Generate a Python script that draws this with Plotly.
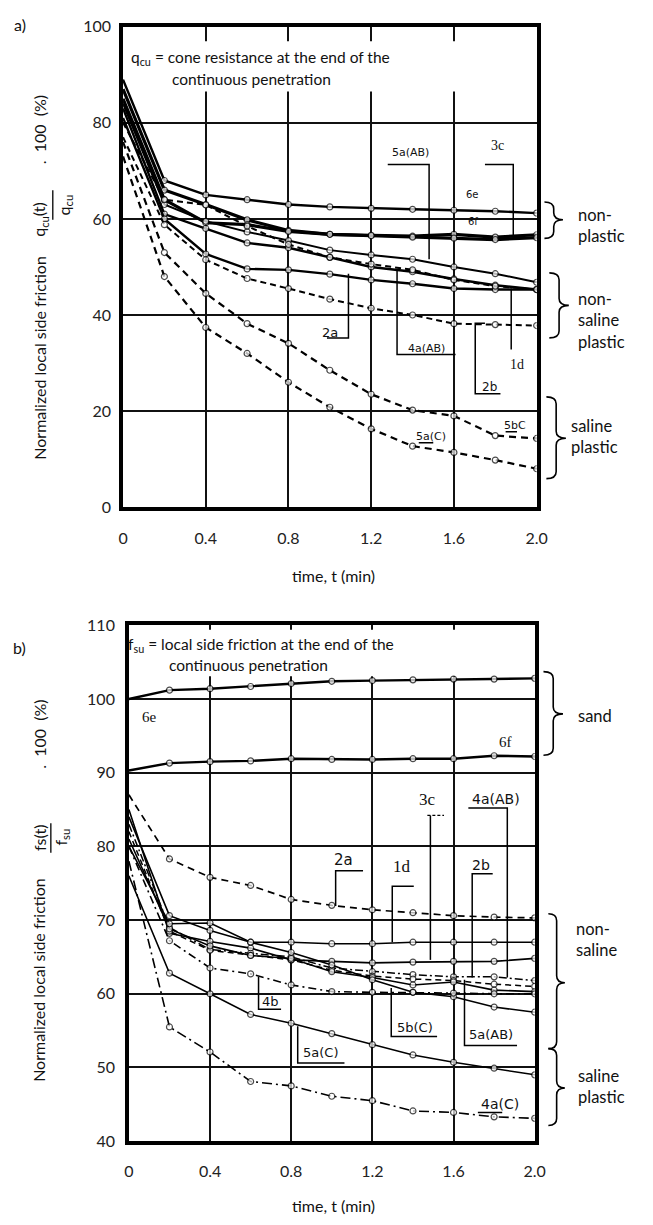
import plotly.graph_objects as go

W, H = 653, 1225

# ---------------- data ----------------
T = [0, 0.2, 0.4, 0.6, 0.8, 1.0, 1.2, 1.4, 1.6, 1.8, 2.0]
X_TICKS = [0, 0.4, 0.8, 1.2, 1.6, 2.0]
X_TICKTEXT = ["0", "0.4", "0.8", "1.2", "1.6", "2.0"]
A_Y_TICKS = [0, 20, 40, 60, 80, 100]
B_Y_TICKS = [40, 50, 60, 70, 80, 90, 100, 110]

# (a) normalized cone resistance (%)
a_6e = [89, 68, 65, 64, 63, 62.5, 62.2, 62, 61.8, 61.6, 61.2]
a_6f = [87, 66, 63, 59.8, 57.6, 56.8, 56.6, 56.4, 56.8, 56.2, 56.7]
a_3c = [85, 64, 59.2, 58.8, 57.4, 56.8, 56.5, 56.2, 56, 55.7, 56.1]
a_5aAB = [84, 63, 59.5, 57.3, 55.5, 53.5, 52.5, 51.6, 50, 48.6, 46.8]
a_4aAB = [83, 61, 58, 55, 54, 52, 50, 49, 47.5, 46.2, 45.3]
a_1d = [81, 60, 52.7, 49.6, 49.4, 48.5, 47.3, 46.5, 45.5, 45.3, 45.3]
a_2a = [80, 64, 62.9, 58.5, 54.7, 52, 50.6, 49.4, 47.3, 46, 45.3]
a_2b = [77, 58.8, 51.5, 47.6, 45.5, 43.3, 41.4, 40, 38.2, 38, 37.8]
a_5bC = [76, 53, 44.5, 38.2, 34.1, 28.5, 23.5, 20.2, 19, 14.9, 14.3]
a_5aC = [73, 48, 37.4, 32, 26, 20.8, 16.3, 12.7, 11.4, 9.8, 8.0]

# (b) normalized local side friction (%)
b_6e = [100, 101.2, 101.4, 101.7, 102.1, 102.4, 102.5, 102.6, 102.7, 102.7, 102.8]
b_6f = [90.3, 91.3, 91.5, 91.6, 91.9, 91.8, 91.8, 91.9, 91.9, 92.3, 92.2]
b_2a = [87, 78.3, 75.8, 74.7, 72.8, 72, 71.4, 71, 70.6, 70.4, 70.3]
b_1d = [84, 70.6, 68.6, 67, 67, 66.8, 66.8, 67, 67, 67, 67]
b_3c = [85, 68.2, 67.1, 66.2, 64.6, 64.4, 64.2, 64.3, 64.4, 64.4, 64.8]
b_4aAB = [83, 69, 66, 65.5, 65, 63.5, 63, 62.6, 62.3, 62.3, 61.8]
b_2b = [82, 68.5, 65.9, 65.2, 64.6, 63.2, 62.4, 62, 61.8, 61.3, 61.0]
b_5aAB = [81, 68.8, 66.5, 65.2, 64.8, 63, 62.2, 61.2, 61.6, 60.5, 60.3]
b_5bC = [80, 69.5, 69.6, 67, 65.6, 63.9, 61.9, 60.2, 59.6, 58.2, 57.5]
b_4b = [80, 67.2, 63.5, 62.7, 61.2, 60.3, 60.2, 60.2, 60.1, 60, 60]
b_5aC = [76, 62.8, 60, 57.2, 56, 54.6, 53.1, 51.7, 50.7, 49.9, 49.0]
b_4aC = [78, 55.5, 52.1, 48.1, 47.5, 46.1, 45.5, 44.1, 43.9, 43.3, 43.1]

# ---------------- styles ----------------
FONT = "Lato"
SERIF = "Liberation Serif"
SANS2 = "DejaVu Sans"

a_series = [
    (a_6e, "solid", 2.4), (a_6f, "solid", 3.2), (a_3c, "solid", 3.2),
    (a_5aAB, "solid", 2.0), (a_4aAB, "solid", 2.4), (a_1d, "solid", 2.4),
    (a_2a, "6px,4px", 2.0), (a_2b, "6px,4px", 2.0),
    (a_5bC, "7px,5px", 2.2), (a_5aC, "7px,5px", 2.2),
]
b_series = [
    (b_6e, "solid", 2.4), (b_6f, "solid", 2.4), (b_2a, "7px,5px", 1.7),
    (b_1d, "solid", 1.6), (b_3c, "solid", 1.6), (b_4aAB, "8px,3px,2px,3px", 1.5),
    (b_2b, "6px,4px", 1.5), (b_5aAB, "solid", 1.6), (b_5bC, "solid", 1.6),
    (b_4b, "8px,4px,2px,4px", 1.6), (b_5aC, "solid", 1.5),
    (b_4aC, "10px,4px,2px,4px", 1.6),
]


def px2p(x, y):
    return x / W, 1 - y / H


fig = go.Figure()
msize = [0] + [6] * (len(T) - 1)
for vals, dash, lw in a_series:
    fig.add_trace(go.Scatter(
        x=T, y=vals, xaxis="x", yaxis="y", mode="lines+markers",
        line=dict(color="black", width=lw, dash=dash),
        marker=dict(size=msize, color="white", line=dict(color="black", width=1.2)),
        showlegend=False, hoverinfo="skip"))
for vals, dash, lw in b_series:
    fig.add_trace(go.Scatter(
        x=T, y=vals, xaxis="x2", yaxis="y2", mode="lines+markers",
        line=dict(color="black", width=lw, dash=dash),
        marker=dict(size=msize, color="white", line=dict(color="black", width=1.2)),
        showlegend=False, hoverinfo="skip"))

axis_common = dict(
    showline=True, mirror=True, linewidth=3.5, linecolor="black",
    showgrid=True, gridcolor="#111111", gridwidth=1.6, zeroline=False,
    ticks="outside", tickcolor="rgba(0,0,0,0)",
    tickfont=dict(family=FONT, size=16, color="#222"),
)

xa0, xa1 = 121 / W, 545 / W
ya0, ya1 = 1 - 505 / H, 1 - 17 / H
xb0, xb1 = 127 / W, 543 / W
yb0, yb1 = 1 - 1149 / H, 1 - 625 / H

fig.update_layout(
    width=W, height=H, margin=dict(l=0, r=0, t=0, b=0),
    paper_bgcolor="white", plot_bgcolor="white",
    xaxis=dict(domain=[xa0, xa1], range=[0, 2.0], anchor="y", tickvals=X_TICKS,
               ticktext=X_TICKTEXT, ticklen=14, **axis_common),
    yaxis=dict(domain=[ya0, ya1], range=[0, 100], anchor="x", tickvals=A_Y_TICKS,
               ticklen=5, **axis_common),
    xaxis2=dict(domain=[xb0, xb1], range=[0, 2.0], anchor="y2", tickvals=X_TICKS,
                ticktext=X_TICKTEXT, ticklen=13, **axis_common),
    yaxis2=dict(domain=[yb0, yb1], range=[40, 110], anchor="x2", tickvals=B_Y_TICKS,
                ticklen=7, **axis_common),
)

shapes = []
annotations = []

# white boxes behind header notes
for xr, yr, x0, x1, y0, y1 in [("x", "y", 0.12, 1.97, 86.5, 97.0),
                               ("x2", "y2", 0.02, 1.97, 103.1, 109.4)]:
    shapes.append(dict(type="rect", xref=xr, yref=yr, x0=x0, x1=x1, y0=y0, y1=y1,
                       fillcolor="white", line=dict(width=0), layer="between"))


def ann_px(text, x, y, size=15, family=FONT, angle=0, xanchor="center", color="#111"):
    px, py = px2p(x, y)
    annotations.append(dict(text=text, x=px, y=py, xref="paper", yref="paper",
                            showarrow=False, textangle=angle, xanchor=xanchor,
                            yanchor="middle", font=dict(family=family, size=size, color=color)))


# header notes
ann_px("q<sub>cu</sub> = cone resistance at the end of the", 262, 49, 15.5)
ann_px("continuous penetration", 253, 70, 15.5)
ann_px("f<sub>su</sub> = local side friction at the end of the", 262, 645, 15.5)
ann_px("continuous penetration", 250, 665, 15.5)

# panel letters
ann_px("a)", 15, 15, 16)
ann_px("b)", 15, 648, 16)

# axis titles
ann_px("time, t (min)", 337, 574, 16)
ann_px("time, t (min)", 337, 1214, 16)

# y titles (rotated)
ann_px("Normalized local side friction", 35, 353, 16, angle=-90)
ann_px("q<sub>cu</sub>(t)", 36, 213, 16, angle=-90)
ann_px("q<sub>cu</sub>", 61, 198, 16, angle=-90)
ann_px(".  100  (%)", 35, 122, 16, angle=-90)
shapes.append(dict(type="line", xref="paper", yref="paper",
                   x0=49 / W, x1=49 / W, y0=1 - 183 / H, y1=1 - 213 / H,
                   line=dict(color="black", width=1.3)))

ann_px("Normalized local side friction", 35, 985, 16, angle=-90)
ann_px("fs(t)", 36, 841, 16, angle=-90)
ann_px("f<sub>su</sub>", 58, 840, 16, angle=-90)
ann_px(".  100  (%)", 35, 736, 16, angle=-90)
shapes.append(dict(type="line", xref="paper", yref="paper",
                   x0=47 / W, x1=47 / W, y0=1 - 826 / H, y1=1 - 856 / H,
                   line=dict(color="black", width=1.3)))


# braces on the right
def brace(x0, y1, y2, ym, w):
    xm = x0 + w * 0.5
    xt = x0 + w
    r = 7
    pts = [("M", [(x0, y1)]), ("Q", [(xm, y1), (xm, y1 + r)]), ("L", [(xm, ym - r)]),
           ("Q", [(xm, ym), (xt, ym)]), ("Q", [(xm, ym), (xm, ym + r)]),
           ("L", [(xm, y2 - r)]), ("Q", [(xm, y2), (x0, y2)])]
    s = ""
    for cmd, pl in pts:
        s += cmd + " " + " ".join("%.5f,%.5f" % px2p(x, y) for x, y in pl) + " "
    shapes.append(dict(type="path", xref="paper", yref="paper", path=s.strip(),
                       line=dict(color="black", width=1.6)))


brace(553, 195, 232, 213, 19)
brace(558, 267, 333, 300, 20)
brace(555, 393, 476, 435, 20)
brace(552, 672, 757, 715, 20)
brace(557, 918, 1055, 988, 17)
brace(557, 1055, 1133, 1095, 17)

SIDE = 16.5
for txt, x, y in [("non-<br>plastic", 585, 219),
                  ("non-<br>saline<br>plastic", 585, 315),
                  ("saline<br>plastic", 578, 433),
                  ("sand", 585, 717),
                  ("non-<br>saline", 583, 944),
                  ("saline<br>plastic", 585, 1093)]:
    ann_px(txt, x, y, SIDE, xanchor="left")
for a in annotations[-6:]:
    a["align"] = "left"

# curve labels (data coordinates)
a_labels = [
    ("5a(AB)", 1.39, 73.8, 11, SANS2), ("3c", 1.81, 75.2, 14, SERIF),
    ("6e", 1.69, 65.0, 10, SANS2), ("6f", 1.69, 59.4, 10, SANS2),
    ("2a", 1.0, 36.4, 13, SANS2), ("4a(AB)", 1.467, 33.0, 11, SANS2),
    ("1d", 1.906, 29.7, 14, SERIF), ("2b", 1.774, 25.0, 12, SANS2),
    ("5bC", 1.896, 17.0, 11, SANS2), ("5a(C)", 1.49, 14.8, 11, SANS2),
]
b_labels = [
    ("6e", 0.10, 97.6, 15, SERIF), ("6f", 1.856, 94.1, 15, SERIF),
    ("3c", 1.47, 86.4, 17, SERIF), ("4a(AB)", 1.808, 86.4, 14, SANS2),
    ("2a", 1.058, 78.2, 15, SANS2), ("1d", 1.346, 77.3, 17, SERIF),
    ("2b", 1.736, 77.5, 14, SANS2), ("4b", 0.697, 59.0, 13, SANS2),
    ("5b(C)", 1.409, 55.4, 13, SANS2), ("5a(AB)", 1.784, 54.5, 13, SANS2),
    ("5a(C)", 0.942, 52.0, 13, SANS2), ("4a(C)", 1.827, 45.0, 14, SANS2),
]
for lst, xr, yr in [(a_labels, "x", "y"), (b_labels, "x2", "y2")]:
    for txt, x, y, s, fam in lst:
        annotations.append(dict(text=txt, x=x, y=y, xref=xr, yref=yr, showarrow=False,
                                font=dict(family=fam, size=s, color="#111")))

# leader lines and underlines (data coordinates)
a_leaders = [
    [(1.28, 71.3), (1.48, 71.3), (1.48, 51.6)],
    [(1.75, 71.3), (1.887, 71.3), (1.887, 56.4)],
    [(1.09, 48.6), (1.09, 35.2), (0.986, 35.2)],
    [(1.325, 49.2), (1.325, 31.8), (1.608, 31.8)],
    [(1.877, 45.5), (1.877, 32.8)],
    [(1.75, 38.3), (1.703, 38.3), (1.703, 23.6), (1.825, 23.6)],
    [(1.85, 15.7), (1.905, 15.7)],
    [(1.43, 13.4), (1.50, 13.4)],
]
b_leaders = [
    [(1.486, 84.2), (1.486, 64.6)],
    [(1.673, 85.2), (1.865, 85.2), (1.865, 62.2)],
    [(1.154, 76.7), (1.019, 76.7), (1.019, 71.9)],
    [(1.404, 74.6), (1.298, 74.6), (1.298, 67.0)],
    [(1.793, 76.3), (1.692, 76.3), (1.692, 62.2)],
    [(0.639, 62.3), (0.639, 57.9), (0.75, 57.9)],
    [(1.293, 60.8), (1.293, 54.2), (1.519, 54.2)],
    [(1.654, 61.9), (1.654, 53.0), (1.913, 53.0)],
    [(0.832, 55.6), (0.832, 50.6), (1.0625, 50.6)],
    [(1.72, 43.9), (1.84, 43.9)],
]
for lst, xr, yr in [(a_leaders, "x", "y"), (b_leaders, "x2", "y2")]:
    for pts in lst:
        path = "M " + " L ".join("%g,%g" % p for p in pts)
        shapes.append(dict(type="path", xref=xr, yref=yr, path=path,
                           line=dict(color="black", width=1.5)))
shapes.append(dict(type="line", xref="x2", yref="y2", x0=1.471, x1=1.553, y0=84.2, y1=84.2,
                   line=dict(color="black", width=1.2, dash="3px,2px")))

fig.update_layout(shapes=shapes, annotations=annotations)
fig.write_html("out.html", config={"displayModeBar": False},
               post_script="document.body.style.margin='0px';")
